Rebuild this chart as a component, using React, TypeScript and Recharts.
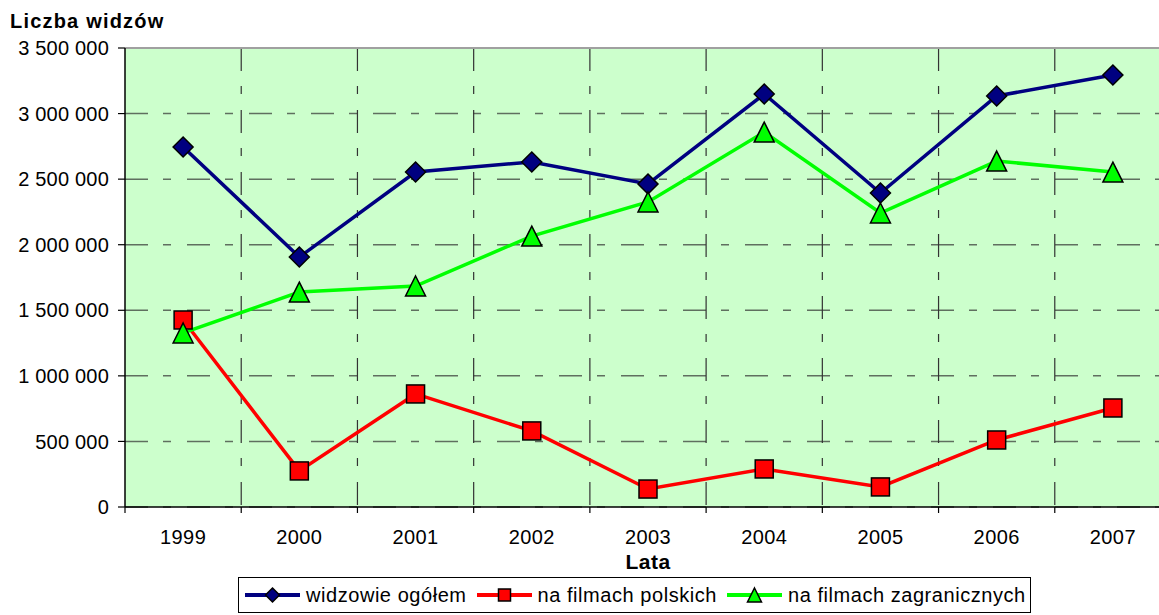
import React from "react";
import {
  LineChart,
  Line,
  XAxis,
  YAxis,
  CartesianGrid,
  ReferenceLine,
  Legend,
} from "recharts";

const years = ["1999", "2000", "2001", "2002", "2003", "2004", "2005", "2006", "2007"];
const totalViewers = [2745000, 1906000, 2554000, 2631000, 2463000, 3149000, 2394000, 3134000, 3294000];
const polishFilms = [1426000, 275000, 862000, 580000, 137000, 290000, 153000, 511000, 755000];
const foreignFilms = [1327000, 1639000, 1685000, 2066000, 2326000, 2859000, 2242000, 2638000, 2554000];
const yTicks = [0, 500000, 1000000, 1500000, 2000000, 2500000, 3000000, 3500000];
const seriesNames = ["widzowie ogółem", "na filmach polskich", "na filmach zagranicznych"];

const data = years.map((y, i) => ({
  x: i,
  year: y,
  total: totalViewers[i],
  polish: polishFilms[i],
  foreign: foreignFilms[i],
}));

const xTicks: number[] = [];
for (let i = -0.5; i <= years.length - 0.5; i += 0.5) xTicks.push(i);
const boundaries: number[] = [];
for (let i = 0.5; i < years.length; i += 1) boundaries.push(i);

const FONT = "'Liberation Sans', Arial, sans-serif";
const NAVY = "#000080";
const RED = "#FF0000";
const GREEN = "#00FF00";

const fmt = (v: number) => String(v).replace(/\B(?=(\d{3})+(?!\d))/g, " ");

const Diamond = ({ cx, cy, r = 10 }: any) => (
  <path
    d={`M${cx},${cy - r}L${cx + r},${cy}L${cx},${cy + r}L${cx - r},${cy}Z`}
    fill={NAVY}
    stroke="#000"
    strokeWidth={1.5}
  />
);
const Square = ({ cx, cy, s = 9 }: any) => (
  <rect x={cx - s} y={cy - s} width={2 * s} height={2 * s} fill={RED} stroke="#000" strokeWidth={1.5} />
);
const Triangle = ({ cx, cy, w = 10, h = 10 }: any) => (
  <path
    d={`M${cx},${cy - h}L${cx + w},${cy + h}L${cx - w},${cy + h}Z`}
    fill={GREEN}
    stroke="#000"
    strokeWidth={1.5}
  />
);

const XTick = (props: any) => {
  const { x, y, payload } = props;
  const v = payload.value as number;
  if (Number.isInteger(v)) {
    return (
      <text
        x={x}
        y={y + 23}
        dy="0.71em"
        textAnchor="middle"
        fontSize={20}
        fontFamily={FONT}
        fill="#000"
        style={{ letterSpacing: 0.4 }}
      >
        {years[v]}
      </text>
    );
  }
  return <line x1={x} y1={y} x2={x} y2={y + 6} stroke="#000" strokeWidth={1.2} />;
};

const legendIcons = [
  (cx: number, cy: number) => <Diamond cx={cx} cy={cy} r={7} />,
  (cx: number, cy: number) => <Square cx={cx} cy={cy} s={6} />,
  (cx: number, cy: number) => <Triangle cx={cx} cy={cy} w={7} h={7} />,
];
const legendColors = [NAVY, RED, GREEN];

const LegendBox = () => (
  <div
    style={{
      border: "1px solid #000",
      background: "#fff",
      display: "flex",
      alignItems: "center",
      height: 36,
      padding: "0 4px 0 6px",
      fontFamily: FONT,
      fontSize: 20,
      letterSpacing: 0.55,
      whiteSpace: "nowrap",
      boxSizing: "border-box",
    }}
  >
    {seriesNames.map((n, i) => (
      <div key={n} style={{ display: "flex", alignItems: "center", marginRight: i < 2 ? 10 : 0 }}>
        <svg width={55} height={20} style={{ marginRight: 6 }}>
          <line x1={0} y1={10} x2={55} y2={10} stroke={legendColors[i]} strokeWidth={4} />
          {legendIcons[i](27.5, 10)}
        </svg>
        <span>{n}</span>
      </div>
    ))}
  </div>
);

export default function App() {
  return (
    <div style={{ position: "absolute", left: 0, top: 0, width: 1159, height: 615, overflow: "hidden", background: "#fff" }}>
      <div
        style={{
          position: "absolute",
          left: 10,
          top: 10,
          fontFamily: FONT,
          fontWeight: "bold",
          fontSize: 20,
          letterSpacing: 1.2,
          zIndex: 2,
        }}
      >
        Liczba widzów
      </div>
      <LineChart width={1180} height={615} data={data} margin={{ top: 48, right: 9, left: 0, bottom: 46 }}>
        <CartesianGrid
          fill="#CCFFCC"
          vertical={false}
          stroke="#5F6F5F"
          strokeWidth={1.5}
          strokeDasharray="23 15 8 16"
        />
        {boundaries.map((b) => (
          <ReferenceLine
            key={b}
            segment={[
              { x: b, y: 3500000 },
              { x: b, y: 0 },
            ]}
            stroke="#333"
            strokeWidth={1.2}
            strokeDasharray="23 15 8 16"
          />
        ))}
        <ReferenceLine y={3500000} stroke="#A0A0A0" strokeWidth={2} />
        <XAxis
          dataKey="x"
          type="number"
          domain={[-0.5, years.length - 0.5]}
          ticks={xTicks}
          interval={0}
          tickLine={false}
          tickSize={0}
          tickMargin={0}
          tick={<XTick />}
          axisLine={{ stroke: "#000", strokeWidth: 1.5 }}
          height={62}
          label={{
            value: "Lata",
            position: "insideBottom",
            offset: 0,
            style: { fontFamily: FONT, fontWeight: "bold", fontSize: 21, fill: "#000", letterSpacing: 0.5 },
          }}
        />
        <YAxis
          type="number"
          domain={[0, 3500000]}
          ticks={yTicks}
          interval={0}
          width={125}
          tickFormatter={fmt}
          tickSize={7}
          tickMargin={9}
          tickLine={{ stroke: "#000", strokeWidth: 1.2 }}
          axisLine={{ stroke: "#000", strokeWidth: 1.5 }}
          tick={{ fontFamily: FONT, fontSize: 20, fill: "#000", style: { letterSpacing: 0.2 } }}
        />
        <Line
          dataKey="total"
          name={seriesNames[0]}
          stroke={NAVY}
          strokeWidth={3.5}
          isAnimationActive={false}
          dot={(p: any) => <Diamond key={`d${p.index}`} cx={p.cx} cy={p.cy} />}
        />
        <Line
          dataKey="polish"
          name={seriesNames[1]}
          stroke={RED}
          strokeWidth={3.5}
          isAnimationActive={false}
          dot={(p: any) => <Square key={`s${p.index}`} cx={p.cx} cy={p.cy} />}
        />
        <Line
          dataKey="foreign"
          name={seriesNames[2]}
          stroke={GREEN}
          strokeWidth={3.5}
          isAnimationActive={false}
          dot={(p: any) => <Triangle key={`t${p.index}`} cx={p.cx} cy={p.cy} />}
        />
        <Legend
          layout="horizontal"
          verticalAlign="middle"
          align="center"
          content={() => <LegendBox />}
          wrapperStyle={{ position: "absolute", top: 577, left: 238, width: "auto", height: "auto" }}
        />
      </LineChart>
    </div>
  );
}
